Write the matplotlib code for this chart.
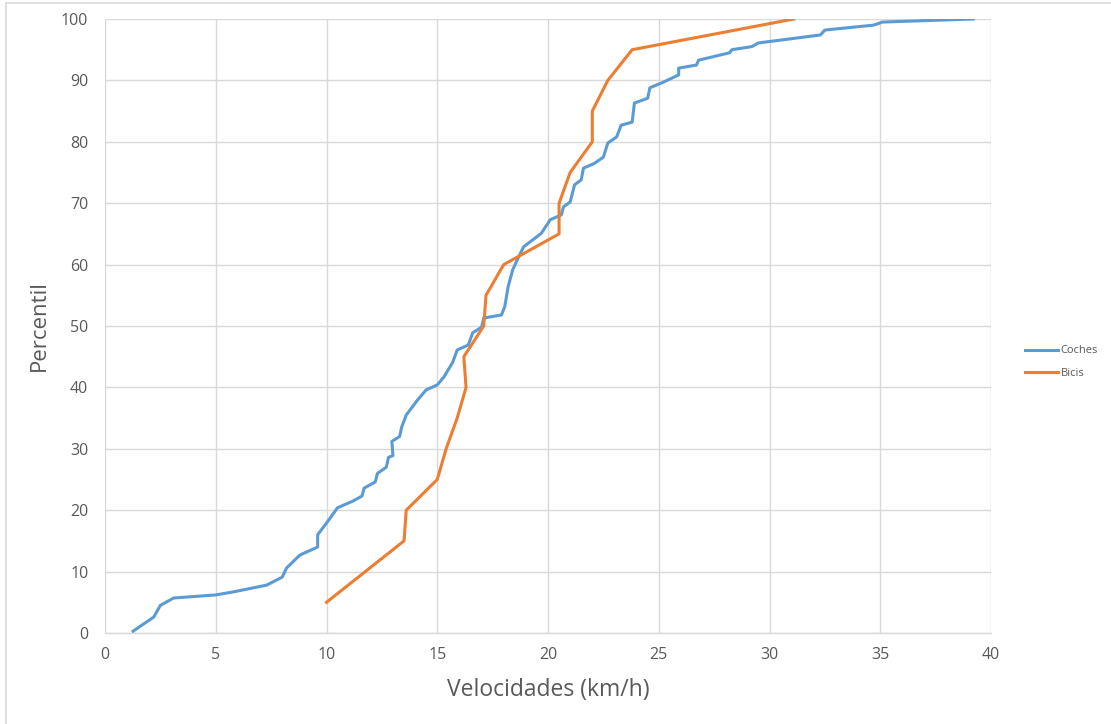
import matplotlib
matplotlib.use("Agg")
import matplotlib.pyplot as plt
from matplotlib.lines import Line2D

plt.rcParams['font.family'] = ['Open Sans', 'DejaVu Sans']

# Data
coches_v = [1.27, 2.2, 2.5, 3.1, 5.0, 5.8, 7.3, 8.0, 8.2, 8.8, 9.6, 9.6, 10.0, 10.5, 11.2,
            11.6, 11.7, 12.2, 12.3, 12.7, 12.8, 13.0, 12.95, 13.3, 13.4, 13.6, 14.1, 14.5,
            15.0, 15.3, 15.7, 15.9, 16.4, 16.6,
            17.0, 17.1, 17.9, 18.05, 18.2, 18.4, 18.6, 18.9, 19.7, 20.1, 20.6, 20.7, 21.0,
            21.2, 21.5, 21.6, 22.1, 22.5, 22.7, 23.1, 23.3, 23.8, 23.9, 24.5, 24.6, 25.2,
            25.9, 25.9, 26.7, 26.8, 28.2, 28.3, 29.2, 29.5, 32.3, 32.5, 34.7, 35.1, 39.2]
coches_p = [0.3, 2.6, 4.5, 5.7, 6.2, 6.7, 7.8, 9.1, 10.6, 12.7, 14.0, 16.0, 17.9, 20.4, 21.5,
            22.3, 23.6, 24.6, 26.0, 27.0, 28.6, 28.9, 31.2, 32.0, 33.6, 35.5, 37.9, 39.6,
            40.4, 41.7, 44.1, 46.1, 46.9, 48.9,
            49.8, 51.3, 51.8, 53.2, 56.4, 59.1, 60.7, 62.9, 65.1, 67.3, 68.1, 69.4, 70.2,
            73.0, 73.8, 75.7, 76.5, 77.5, 79.8, 80.8, 82.7, 83.2, 86.3, 87.1, 88.8, 89.7,
            90.9, 92.0, 92.5, 93.3, 94.5, 95.0, 95.5, 96.1, 97.4, 98.2, 99.0, 99.5, 100.0]

bicis_v = [10.0, 13.5, 13.6, 15.0, 15.4, 15.9, 16.3, 16.2, 17.1, 17.2, 18.0, 20.5, 20.5,
           21.0, 22.0, 22.0, 22.7, 23.8, 31.1]
bicis_p = [5, 15, 20, 25, 30, 35, 40, 45, 50, 55, 60, 65, 70, 75, 80, 85, 90, 95, 100]

x_ticks = [0, 5, 10, 15, 20, 25, 30, 35, 40]
y_ticks = [0, 10, 20, 30, 40, 50, 60, 70, 80, 90, 100]

BLUE = "#5B9BD5"
ORANGE = "#ED7D31"
GRID = "#D9D9D9"
TXT = "#595959"

fig = plt.figure(figsize=(11.11, 7.24), dpi=100)
W, H = 1111, 724
ax = fig.add_axes([105 / W, (H - 633) / H, (991 - 105) / W, (633 - 19) / H])

ax.plot(coches_v, coches_p, color=BLUE, lw=2.2, solid_joinstyle="round", label="Coches", zorder=3)
ax.plot(bicis_v, bicis_p, color=ORANGE, lw=2.2, solid_joinstyle="round", label="Bicis", zorder=3)

ax.set_xlim(0, 40)
ax.set_ylim(0, 100)
ax.set_xticks(x_ticks)
ax.set_yticks(y_ticks)
ax.grid(True, color=GRID, lw=1.0, zorder=0)
ax.set_axisbelow(True)
for s in ["top", "right", "left"]:
    ax.spines[s].set_visible(False)
ax.spines["bottom"].set_color(GRID)
ax.spines["bottom"].set_linewidth(1.0)
ax.tick_params(axis="both", length=0, labelsize=11.5, colors=TXT)
ax.tick_params(axis="x", pad=10)
ax.tick_params(axis="y", pad=12)

ax.set_xlabel("Velocidades (km/h)", fontsize=16.5, color=TXT, labelpad=11)
ax.set_ylabel("Percentil", fontsize=16, color=TXT, labelpad=8)

handles = [Line2D([0], [0], color=BLUE, lw=2.2), Line2D([0], [0], color=ORANGE, lw=2.2)]
leg = fig.legend(handles, ["Coches", "Bicis"], loc="center left",
                 bbox_to_anchor=(1015 / W, 1 - 362 / H), frameon=False,
                 fontsize=8, handlelength=3.0, handletextpad=0.2, labelspacing=1.0)
for t in leg.get_texts():
    t.set_color(TXT)

# outer chart border (left and top)
fig.add_artist(Line2D([6 / W, 6 / W], [0, 1 - 3 / H], color="#D9D9D9", lw=1.2, transform=fig.transFigure))
fig.add_artist(Line2D([6 / W, 1], [1 - 3 / H, 1 - 3 / H], color="#D9D9D9", lw=1.2, transform=fig.transFigure))

fig.savefig("out.png", dpi=100)
